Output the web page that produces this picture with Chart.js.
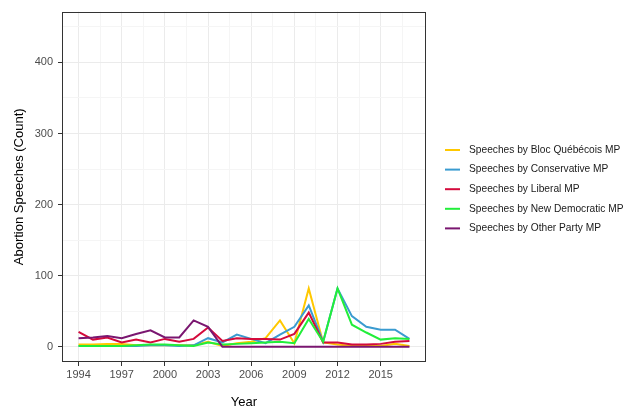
<!DOCTYPE html>
<html>
<head>
<meta charset="utf-8">
<script src="https://cdn.jsdelivr.net/npm/chart.js@4.4.1/dist/chart.umd.min.js"></script>
<style>
  html, body { margin: 0; padding: 0; background: #fff; }
  #wrap { width: 624px; height: 408px; }
</style>
</head>
<body>
<div id="wrap"><canvas id="line-chart" width="624" height="408"></canvas></div>
<script>
var years = [1994, 1995, 1996, 1997, 1998, 1999, 2000, 2001, 2002, 2003, 2004, 2005,
             2006, 2007, 2008, 2009, 2010, 2011, 2012, 2013, 2014, 2015, 2016, 2017];

var bloc         = [3, 3, 4, 4, 2, 2, 2, 2, 2, 7, 1, 5, 7, 12, 37, 5, 82, 6, 3, 1, 1, 1, 4, 1];
var conservative = [1, 1, 1, 1, 1, 2, 2, 1, 2, 12, 6, 17, 11, 5, 17, 28, 58, 7, 82, 43, 28, 24, 24, 11];
var liberal      = [21, 10, 13, 6, 10, 6, 11, 7, 11, 27, 8, 12, 11, 11, 10, 18, 48, 6, 6, 3, 3, 4, 7, 8];
var ndp          = [1, 1, 1, 1, 2, 3, 3, 2, 1, 6, 3, 4, 5, 6, 7, 5, 39, 7, 82, 31, 20, 10, 12, 11];
var other        = [12, 13, 15, 12, 18, 23, 13, 13, 37, 28, 0, 0, 0, 0, 0, 0, 0, 0, 0, 0, 0, 0, 0, 0];

var seriesNames = [
  'Speeches by Bloc Québécois MP',
  'Speeches by Conservative MP',
  'Speeches by Liberal MP',
  'Speeches by New Democratic MP',
  'Speeches by Other Party MP'
];
var seriesColors = ['#FFC800', '#3A9BD0', '#D40B3C', '#22EE3A', '#7A1670'];
var seriesValues = [bloc, conservative, liberal, ndp, other];

var xTicks = [1994, 1995.5, 1997, 1998.5, 2000, 2001.5, 2003, 2004.5, 2006, 2007.5, 2009, 2010.5, 2012, 2013.5, 2015, 2016.5];
var yTicks = [0, 50, 100, 150, 200, 250, 300, 350, 400, 450];

var FONT = '"Liberation Sans", Arial, sans-serif';

function toPoints(vals) {
  return vals.map(function (v, i) { return { x: years[i], y: v }; });
}

var datasets = seriesValues.map(function (vals, i) {
  return {
    label: seriesNames[i],
    data: toPoints(vals),
    borderColor: seriesColors[i],
    backgroundColor: seriesColors[i],
    borderWidth: 2,
    pointRadius: 0,
    tension: 0,
    fill: false,
    order: seriesValues.length - i   // later series drawn on top
  };
});

// panel border + legend to the right of the plot
var panelAndLegend = {
  id: 'panelAndLegend',
  afterDatasetsDraw: function (chart) {
    var a = chart.chartArea, ctx = chart.ctx;
    ctx.save();
    ctx.strokeStyle = '#333333';
    ctx.lineWidth = 1;
    ctx.strokeRect(Math.round(a.left) + 0.5, Math.round(a.top) + 0.5,
                   Math.round(a.right - a.left) - 1, Math.round(a.bottom - a.top) - 1);
    ctx.restore();
  },
  afterDraw: function (chart) {
    var ctx = chart.ctx;
    ctx.save();
    ctx.font = '10.2px ' + FONT;
    ctx.textBaseline = 'middle';
    ctx.fillStyle = '#1a1a1a';
    chart.data.datasets.forEach(function (ds, i) {
      var y = 150 + i * 19.6;
      ctx.strokeStyle = ds.borderColor;
      ctx.lineWidth = 2;
      ctx.beginPath();
      ctx.moveTo(445, y);
      ctx.lineTo(460, y);
      ctx.stroke();
      ctx.fillText(ds.label, 469, y);
    });
    ctx.restore();
  }
};

var mychart = document.getElementById('line-chart');
var myLineChart = new Chart(mychart, {
  type: 'line',
  data: { datasets: datasets },
  plugins: [panelAndLegend],
  options: {
    responsive: false,
    animation: false,
    layout: { padding: { left: 0, top: 9, right: 198, bottom: 0 } },
    plugins: {
      legend: { display: false },
      tooltip: { enabled: false }
    },
    scales: {
      x: {
        type: 'linear',
        min: 1992.85,
        max: 2018.15,
        afterBuildTicks: function (scale) {
          scale.ticks = xTicks.map(function (v) { return { value: v }; });
        },
        afterFit: function (scale) { scale.height = 46; },
        border: { display: false },
        grid: {
          color: function (c) { return (c.tick && (c.tick.value - 1994) % 3 === 0) ? '#EBEBEB' : '#F5F5F5'; },
          lineWidth: 1,
          tickLength: 4,
          tickColor: function (c) { return (c.tick && (c.tick.value - 1994) % 3 === 0) ? '#333333' : 'rgba(0,0,0,0)'; }
        },
        ticks: {
          autoSkip: false,
          maxRotation: 0,
          padding: 2,
          color: '#4D4D4D',
          font: { family: FONT, size: 11 },
          callback: function (v) { return (v - 1994) % 3 === 0 ? String(v) : ''; }
        },
        title: {
          display: true,
          text: 'Year',
          color: '#000000',
          font: { family: FONT, size: 13 },
          padding: { top: 0, bottom: -2 }
        }
      },
      y: {
        min: -21.5,
        max: 471.5,
        afterBuildTicks: function (scale) {
          scale.ticks = yTicks.map(function (v) { return { value: v }; });
        },
        afterFit: function (scale) { scale.width = 62; },
        border: { display: false },
        grid: {
          color: function (c) { return (c.tick && c.tick.value % 100 === 0) ? '#EBEBEB' : '#F5F5F5'; },
          lineWidth: 1,
          tickLength: 4,
          tickColor: function (c) { return (c.tick && c.tick.value % 100 === 0) ? '#333333' : 'rgba(0,0,0,0)'; }
        },
        ticks: {
          autoSkip: false,
          padding: 5,
          color: '#4D4D4D',
          font: { family: FONT, size: 11 },
          callback: function (v) { return v % 100 === 0 ? String(v) : ''; }
        },
        title: {
          display: true,
          text: 'Abortion Speeches (Count)',
          color: '#000000',
          font: { family: FONT, size: 13 },
          padding: { top: 12, bottom: 0 }
        }
      }
    }
  }
});
</script>
</body>
</html>
